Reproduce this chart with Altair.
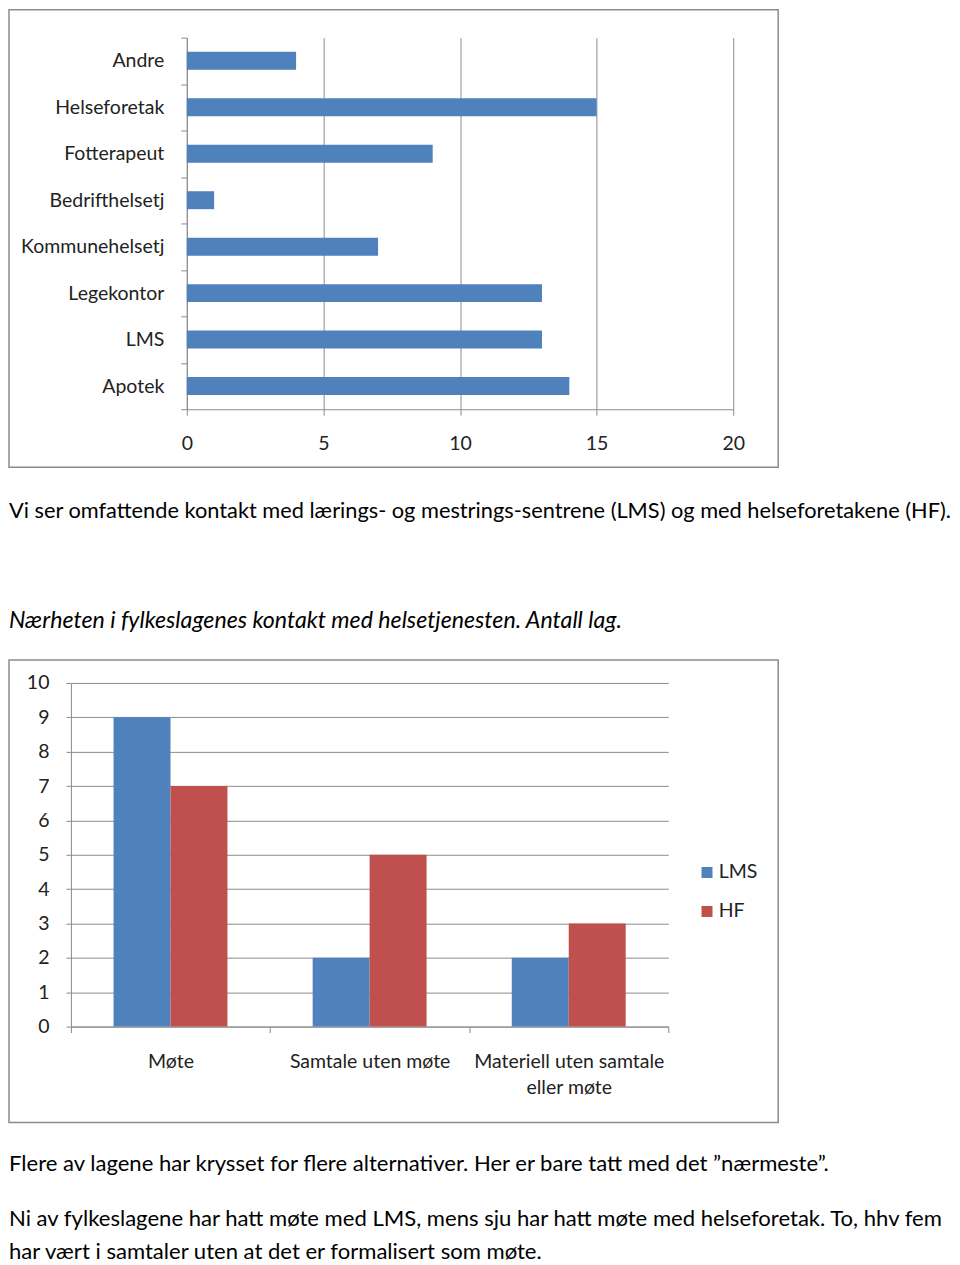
import altair as alt
import pandas as pd

FONT = "Lato"
BLUE = "#4F81BD"
RED = "#C0504D"
GRAY = "#8c8c8c"
LBL = 19.5

# ---- data: chart 1 (horizontal bars) ----
cats1 = ["Andre", "Helseforetak", "Fotterapeut", "Bedrifthelsetj",
         "Kommunehelsetj", "Legekontor", "LMS", "Apotek"]
vals1 = [4, 15, 9, 1, 7, 13, 13, 14]
x_ticks1 = [0, 5, 10, 15, 20]

# ---- data: chart 2 (grouped bars) ----
cats2 = ["Møte", "Samtale uten møte", "Materiell uten samtale\neller møte"]
series2 = ["LMS", "HF"]
lms_vals = [9, 2, 2]
hf_vals = [7, 5, 3]
y_ticks2 = list(range(0, 11))

# ---- text ----
text_a = "Vi ser omfattende kontakt med lærings- og mestrings-sentrene (LMS) og med helseforetakene (HF)."
text_caption = "Nærheten i fylkeslagenes kontakt med helsetjenesten. Antall lag."
text_bottom = [
    "Flere av lagene har krysset for flere alternativer. Her er bare tatt med det ”nærmeste”.",
    "Ni av fylkeslagene har hatt møte med LMS, mens sju har hatt møte med helseforetak. To, hhv fem",
    "har vært i samtaler uten at det er formalisert som møte.",
]
text_bottom_y = [41, 96, 129]

df1 = pd.DataFrame({"cat": cats1, "val": vals1})
rows = []
for c, a, b in zip(cats2, lms_vals, hf_vals):
    rows.append({"cat": c, "series": "LMS", "val": a})
    rows.append({"cat": c, "series": "HF", "val": b})
df2 = pd.DataFrame(rows)
one = pd.DataFrame({"k": [0]})

# ---------- chart 1 ----------
frame1 = alt.Chart(one).mark_rect(fillOpacity=0, stroke=GRAY, strokeWidth=1.5).encode(
    x=alt.value(-62), x2=alt.value(708), y=alt.value(-28), y2=alt.value(430)
)
bars1 = alt.Chart(df1).mark_bar(color=BLUE, height={"band": 0.387}).encode(
    y=alt.Y("cat:N", sort=cats1, title=None,
            scale=alt.Scale(paddingInner=0, paddingOuter=0),
            axis=alt.Axis(tickBand="extent", grid=False, domainColor=GRAY, tickColor=GRAY,
                          tickSize=6, labelPadding=17, labelFontSize=LBL, labelFont=FONT,
                          labelColor="#222", offset=-116)),
    x=alt.X("val:Q", title=None, scale=alt.Scale(domain=[0, 20], nice=False, range=[116, 663]),
            axis=alt.Axis(values=x_ticks1, grid=True, gridColor=GRAY, gridOpacity=1,
                          domainColor=GRAY, tickColor=GRAY, tickSize=6, labelPadding=19,
                          labelFlush=False, labelFontSize=LBL, labelFont=FONT,
                          labelColor="#222")),
)
chart1 = alt.layer(frame1, bars1).properties(width=663, height=372)

# ---------- text between ----------
t1 = alt.Chart(pd.DataFrame({"t": [text_a]})).mark_text(
    align="left", baseline="middle", font=FONT, fontSize=21.8, color="#000"
).encode(x=alt.value(-62), y=alt.value(43), text="t:N")
t2 = alt.Chart(pd.DataFrame({"t": [text_caption]})).mark_text(
    align="left", baseline="middle", font=FONT, fontSize=23.2, fontStyle="italic", color="#000"
).encode(x=alt.value(-62), y=alt.value(153), text="t:N")
mid = alt.layer(t1, t2).properties(width=700, height=191)

# ---------- chart 2 ----------
frame2 = alt.Chart(one).mark_rect(fillOpacity=0, stroke=GRAY, strokeWidth=1.5).encode(
    x=alt.value(-62), x2=alt.value(708), y=alt.value(-23), y2=alt.value(440)
)
bars2 = alt.Chart(df2).mark_bar().encode(
    x=alt.X("cat:N", sort=cats2, title=None,
            scale=alt.Scale(paddingInner=0, paddingOuter=0),
            axis=alt.Axis(tickBand="extent", labelAngle=0, grid=False, domainColor=GRAY,
                          tickColor=GRAY, tickSize=6, labelPadding=20, labelFontSize=LBL,
                          labelFont=FONT, labelColor="#222", labelLineHeight=26,
                          labelLimit=400, labelExpr="split(datum.label, '\\n')")),
    xOffset=alt.XOffset("series:N", sort=series2,
                        scale=alt.Scale(paddingInner=0, paddingOuter=0.748)),
    y=alt.Y("val:Q", title=None, scale=alt.Scale(domain=[0, 10], nice=False),
            axis=alt.Axis(values=y_ticks2, grid=True, gridColor=GRAY, gridOpacity=1,
                          domainColor=GRAY, tickColor=GRAY, tickSize=5, labelPadding=17,
                          labelFontSize=LBL, labelFont=FONT, labelColor="#222")),
    color=alt.Color("series:N", scale=alt.Scale(domain=series2, range=[BLUE, RED]),
                    legend=alt.Legend(title=None, orient="none", legendX=627, legendY=180,
                                      symbolType="square", symbolSize=121,
                                      symbolStrokeWidth=0, labelFontSize=LBL, labelFont=FONT,
                                      labelColor="#222", rowPadding=18, labelOffset=2)),
)
chart2 = alt.layer(frame2, bars2).properties(width=598, height=344)

# ---------- bottom text ----------
tb = alt.Chart(pd.DataFrame({"t": text_bottom, "y": text_bottom_y})).mark_text(
    align="left", baseline="middle", font=FONT, fontSize=22.1, color="#000"
).encode(x=alt.value(-62),
         y=alt.Y("y:Q", scale=alt.Scale(domain=[0, 135], range=[0, 135]), axis=None),
         text="t:N").properties(width=700, height=135)

chart = alt.vconcat(chart1, mid, chart2, tb, spacing=0).resolve_legend(
    color="independent"
).properties(padding=0, background="white").configure_view(stroke="transparent", strokeWidth=0)

chart.save("out.html", embed_options={"renderer": "svg", "actions": False})
